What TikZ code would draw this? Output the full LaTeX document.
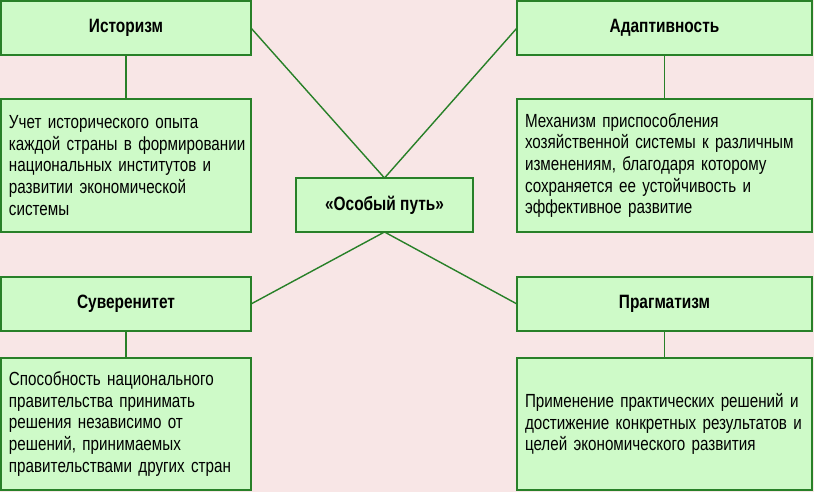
\documentclass[tikz,border=0pt]{standalone}
\usepackage{fontspec}
\setmainfont[FakeStretch=0.8]{Liberation Sans}
\definecolor{bgpink}{RGB}{248,230,230}
\definecolor{boxfill}{RGB}{206,250,200}
\definecolor{boxline}{RGB}{40,128,40}
\hfuzz=20pt
\begin{document}
\begin{tikzpicture}[x=1pt,y=-1pt,
  base/.style={draw=boxline, line width=1.6pt, fill=boxfill, inner sep=0pt, outer sep=0pt},
  headbox/.style={base, minimum height=54pt, font=\fontsize{19.3}{22}\selectfont\bfseries},
  descbox/.style={base, align=left, font=\fontsize{19}{21.7}\selectfont},
  conn/.style={draw=boxline, line width=1.4pt}]
\fill[bgpink] (0,0) rectangle (814,492);
\useasboundingbox (0,0) rectangle (814,492);
% left column
\node[headbox, minimum width=250pt] (h1) at (126,28) {Историзм};
\node[descbox, minimum width=250pt, minimum height=133pt, text width=234pt] (d1) at (126,165.5)
 {\mbox{Учет исторического опыта}\\\mbox{каждой страны в формировании}\\\mbox{национальных институтов и}\\\mbox{развитии экономической}\\\mbox{системы}};
\node[headbox, minimum width=250pt] (h3) at (126,304) {Суверенитет};
\node[descbox, minimum width=250pt, minimum height=132pt, text width=234pt] (d3) at (126,424)
 {\mbox{Способность национального}\\\mbox{правительства принимать}\\\mbox{решения независимо от}\\\mbox{решений, принимаемых}\\\mbox{правительствами других стран}};
% right column
\node[headbox, minimum width=295pt] (h2) at (664.5,28) {Адаптивность};
\node[descbox, minimum width=295pt, minimum height=133pt, text width=279pt] (d2) at (664.5,165.5)
 {\mbox{Механизм приспособления}\\\mbox{хозяйственной системы к различным}\\\mbox{изменениям, благодаря которому}\\\mbox{сохраняется ее устойчивость и}\\\mbox{эффективное развитие}};
\node[headbox, minimum width=295pt] (h4) at (664.5,304) {Прагматизм};
\node[descbox, minimum width=295pt, minimum height=132pt, text width=279pt] (d4) at (664.5,424)
 {\mbox{Применение практических решений и}\\\mbox{достижение конкретных результатов и}\\\mbox{целей экономического развития}};
% centre
\node[headbox, minimum width=177pt] (c) at (384.5,205) {«Особый путь»};
% connectors
\draw[conn] (h1) -- (d1);
\draw[conn] (h2) -- (d2);
\draw[conn] (h3) -- (d3);
\draw[conn] (h4) -- (d4);
\draw[conn] (c.north) -- (h1.east);
\draw[conn] (c.north) -- (h2.west);
\draw[conn] (c.south) -- (h3.east);
\draw[conn] (c.south) -- (h4.west);
\end{tikzpicture}
\end{document}
